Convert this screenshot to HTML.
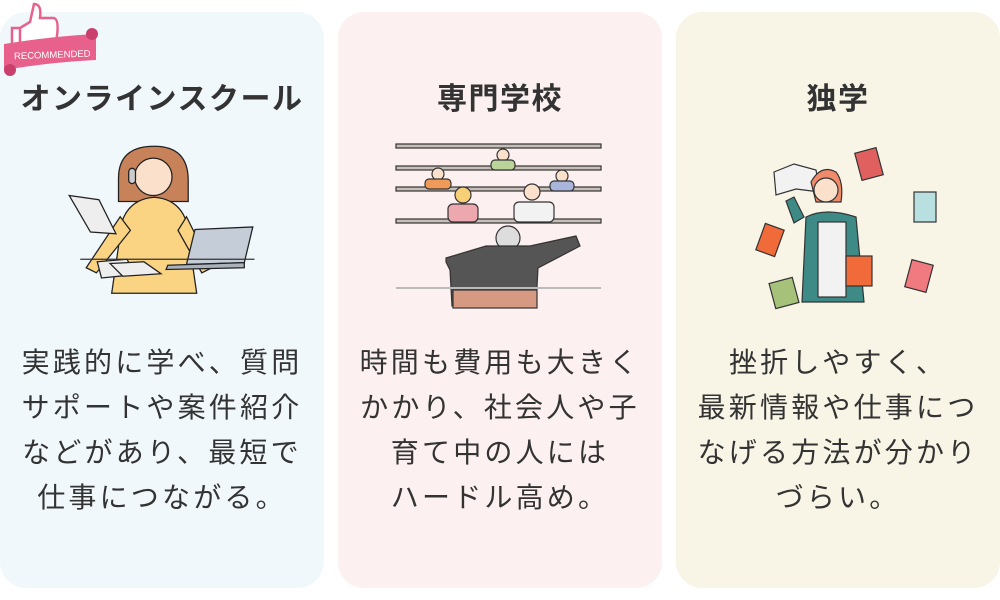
<!DOCTYPE html>
<html><head><meta charset="utf-8"><style>
body{margin:0;width:1000px;height:600px;background:#fff;position:relative;overflow:hidden;font-family:"Liberation Sans","Noto Sans CJK JP",sans-serif;color:#333}
.card{position:absolute;top:12px;width:324px;height:576px;border-radius:26px}
.t{position:absolute;left:0;right:0;top:68px;text-align:center;font-size:30px;font-weight:bold;letter-spacing:1.5px;color:#333;line-height:40px}
.b{position:absolute;left:0;right:0;top:340px;text-align:center;font-size:28px;line-height:45px;letter-spacing:3.2px;color:#333}
svg.il{position:absolute;left:0;top:0}
</style></head><body>
<div class="card" style="left:0;background:#f1f8fc">
<div class="t">オンラインスクール</div>
<svg class="il" width="324" height="576">
<g transform="translate(25,22) scale(0.85)">
<g stroke="#222" stroke-width="1.5">
<path d="M110 170 q0-38 42-38 q40 0 40 40 l0 25 l-82 0z" fill="#c8825a"/>
<circle cx="151" cy="168" r="22" fill="#fbe0cc"/>
<path d="M110 250 q0-55 42-58 q42 3 42 58 l8 55 l-100 0z" fill="#fbd483"/>
<path d="M112 215 l-40 60 l12 6 l40-50z" fill="#fbd483"/>
<path d="M190 215 l30 60 l-12 6 l-28-50z" fill="#fbd483"/>
<rect x="122" y="158" width="8" height="18" rx="4" fill="#ccc"/>
<path d="M52 190 l35 5 l20 40 l-30 -2z" fill="#eee"/>
<path d="M200 230 l68 -3 l-10 42 l-68 2z" fill="#c5ced8"/>
<path d="M168 272 l90 -3 l0 6 l-92 2z" fill="#aab3bd"/>
<path d="M85 268 l35 -3 l10 18 l-40 4z" fill="#eee"/>
<path d="M100 270 l40 -2 l20 14 l-45 3z" fill="#eee"/>
</g>
<line x1="65" y1="265" x2="270" y2="265" stroke="#333" stroke-width="1.5"/>
</g>
</svg>
</div>
<div class="card" style="left:338px;background:#fcf0f0">
<div class="t">専門学校</div>
<svg class="il" width="324" height="576">
<g fill="#c8beb8" stroke="#333" stroke-width="1.2">
<rect x="58" y="132" width="205" height="4"/>
<rect x="58" y="154" width="205" height="4"/>
<rect x="58" y="175" width="205" height="4"/>
<rect x="58" y="207" width="205" height="4"/>
</g>
<g stroke="#333" stroke-width="1.2">
<circle cx="165" cy="143" r="6" fill="#fbe0cc"/><rect x="153" y="148" width="24" height="10" rx="4" fill="#b9d39a"/>
<circle cx="100" cy="162" r="6" fill="#fbe0cc"/><rect x="87" y="167" width="26" height="10" rx="4" fill="#f09a5a"/>
<circle cx="224" cy="164" r="6" fill="#fbe0cc"/><rect x="212" y="169" width="24" height="10" rx="4" fill="#a9b5da"/>
<circle cx="125" cy="183" r="8" fill="#f7cf77"/><rect x="110" y="192" width="30" height="18" rx="5" fill="#eda7ae"/>
<circle cx="194" cy="180" r="8" fill="#fbe0cc"/><rect x="176" y="190" width="40" height="20" rx="5" fill="#f2f2f2"/>
<circle cx="170" cy="226" r="12" fill="#ddd"/>
<path d="M108 246 l40 -12 l44 0 l46 -10 l4 10 l-42 22 l-2 38 l-84 0 l-2 -36 l-4 -8z" fill="#555"/>
<rect x="115" y="278" width="84" height="18" fill="#d69a82"/>
</g>
<line x1="58" y1="276" x2="263" y2="276" stroke="#bbb" stroke-width="2"/>
</svg>
</div>
<div class="card" style="left:676px;background:#f8f5e6">
<div class="t">独学</div>
<svg class="il" width="324" height="576">
<g stroke="#333" stroke-width="1.2">
<path d="M98 160 l20 -8 l22 6 l4 22 l-24 -3 l-20 6z" fill="#f2f2f2"/>
<rect x="182" y="138" width="22" height="28" transform="rotate(-15 193 152)" fill="#e06060"/>
<rect x="238" y="180" width="22" height="30" fill="#b9e0e0"/>
<rect x="84" y="214" width="20" height="28" transform="rotate(20 94 228)" fill="#f06a3a"/>
<rect x="96" y="268" width="24" height="26" transform="rotate(-15 108 281)" fill="#a6c27a"/>
<rect x="232" y="250" width="22" height="28" transform="rotate(15 243 264)" fill="#f07a80"/>
<path d="M135 170 q10-18 25-10 q8 10 5 30 l-25 0z" fill="#ef8a6a"/>
<circle cx="150" cy="178" r="12" fill="#fbe0cc"/>
<path d="M130 205 q20-10 50 0 l8 85 l-62 0z" fill="#3d8a86"/>
<rect x="142" y="210" width="28" height="75" fill="#f2f2f2"/>
<rect x="170" y="244" width="26" height="30" fill="#f06a3a"/>
<path d="M128 205 l-10 -20 l-8 4 l8 22z" fill="#3d8a86"/>
</g>
</svg>
</div>
<div class="b" style="left:0;width:324px">実践的に学べ、質問<br>サポートや案件紹介<br>などがあり、最短で<br>仕事につながる。</div>
<div class="b" style="left:338px;width:324px">時間も費用も大きく<br>かかり、社会人や子<br>育て中の人には<br>ハードル高め。</div>
<div class="b" style="left:676px;width:324px">挫折しやすく、<br>最新情報や仕事につ<br>なげる方法が分かり<br>づらい。</div>
<svg style="position:absolute;left:0;top:0" width="110" height="80">
<path d="M12 28 l8 0 l0 18 l-8 0z M20 28 l10 -6 l4 -18 q8 0 6 14 l14 0 q6 2 2 24 l-36 4z" fill="#fff" stroke="#e8618c" stroke-width="2.5"/>
<path d="M4 44 q50 -8 92 -10 l0 26 q-44 2 -92 10z" fill="#e8618c"/>
<circle cx="92" cy="34" r="6" fill="#c9406c"/><circle cx="10" cy="70" r="6" fill="#c9406c"/>
<text x="14" y="58" font-size="9.5" fill="#fff" font-family="Liberation Sans,sans-serif" transform="rotate(-2 50 55)">RECOMMENDED</text>
</svg>
</body></html>
